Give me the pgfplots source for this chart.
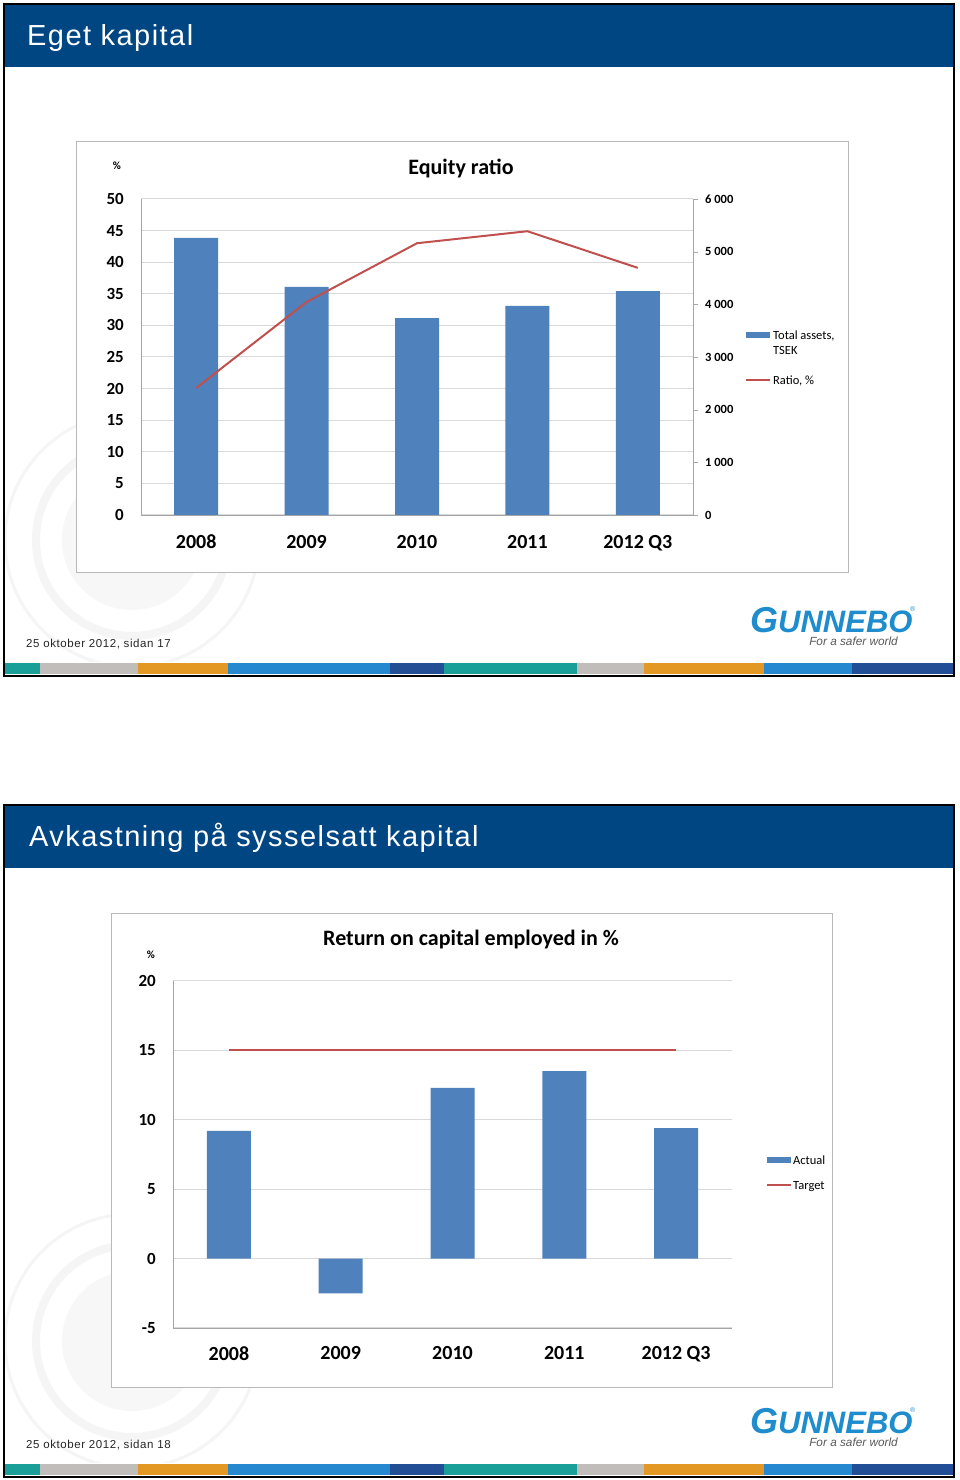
\documentclass[border=0pt]{standalone}
\usepackage{fontspec}
\setmainfont{Carlito}
\newfontfamily\arialsp[LetterSpace=5]{Liberation Sans}
\newfontfamily\arial{Liberation Sans}
\usepackage{pgfplots}
\pgfplotsset{compat=1.18}

\definecolor{hdrblue}{RGB}{0,70,131}
\definecolor{barblue}{RGB}{79,129,189}
\definecolor{linered}{RGB}{192,80,77}
\definecolor{gridgray}{RGB}{217,217,217}
\definecolor{axgray}{RGB}{165,165,165}
\definecolor{logoblue}{RGB}{30,140,205}
\definecolor{stteal}{RGB}{26,158,152}
\definecolor{stgray}{RGB}{192,189,186}
\definecolor{storange}{RGB}{226,152,34}
\definecolor{stblue}{RGB}{38,137,207}
\definecolor{stdark}{RGB}{34,78,150}

\pgfplotsset{
  base/.style={
    scale only axis, anchor=south west,
    xmin=-0.5, xmax=4.5,
    /pgf/number format/assume math mode=true,
    axis line style={draw=axgray, -},
    tick style={axgray},
  },
  cats/.style={
    xtick={0,...,4}, xticklabels={2008,2009,2010,2011,2012 Q3},
    axis x line*=bottom, axis y line*=left,
    major tick length=0pt,
    ymajorgrids, grid style={gridgray, line width=1pt},
    yticklabel style={font=\fontsize{17}{20}\selectfont\bfseries, inner sep=0pt, xshift=-17pt},
    xticklabel style={font=\fontsize{20}{24}\selectfont\bfseries, inner sep=0pt, yshift=-20pt},
  },
}

% one slide frame: #1 = y of slide bottom (1pt = 1px)
\newcommand{\slideframe}[4]{%
  \begin{scope}
    \clip (5,{#1+14}) rectangle (953,{#1+608});
    \draw[gray!8, line width=3pt] (132,{#1+136}) circle (127pt);
    \draw[gray!8, line width=8pt] (132,{#1+136}) circle (96pt);
    \fill[gray!6] (132,{#1+136}) circle (70pt);
  \end{scope}
  \draw[black, line width=2pt] (4,#1) rectangle (954,{#1+672});
  \fill[hdrblue] (5,{#1+609}) rectangle (953,{#1+671});
  \node[anchor=base west, white, inner sep=0, font=\arialsp\fontsize{29}{30}\selectfont] at (#2,{#1+630}) {#3};
  \foreach \a/\b/\c in {5/40/stteal, 40/138/stgray, 138/228/storange, 228/390/stblue, 390/444/stdark,
                        444/577/stteal, 577/644/stgray, 644/764/storange, 764/852/stblue, 852/953/stdark}
    \fill[\c] (\a,{#1+2}) rectangle (\b,{#1+13});
  \node[anchor=base west, inner sep=0, black!85, font=\arialsp\fontsize{11.5}{13}\selectfont] at (26,{#1+28}) {#4};
  \node[anchor=base west, inner sep=0, logoblue, font=\arial\bfseries\itshape] at (750,{#1+43})
    {\fontsize{36}{36}\selectfont G\fontsize{31}{31}\selectfont UNNEBO};
  \node[anchor=base west, inner sep=0, logoblue, font=\arial\fontsize{7}{7}\selectfont] at (910,{#1+64}) {\textregistered};
  \node[anchor=base east, inner sep=0, black!65, font=\arial\itshape\fontsize{11.8}{13}\selectfont] at (898,{#1+30}) {For a safer world};
}

\begin{document}
\begin{tikzpicture}
\begin{scope}[x=1pt,y=1pt]
\fill[white] (0,0) rectangle (960,1480);

% slide 17 frame
\slideframe{804}{27}{Eget kapital}{25 oktober 2012, sidan 17}
\draw[gray!55, fill=white, line width=1pt] (76,907) rectangle (848,1338);
\node[font=\fontsize{22}{26}\selectfont\bfseries] at (461,1311) {Equity ratio};
\node[font=\fontsize{11}{13}\selectfont\bfseries] at (117,1314) {\%};
\fill[barblue] (746,1142) rectangle (770,1148);
\node[anchor=base west, inner sep=0, font=\fontsize{12.5}{15}\selectfont] at (773,1140.5) {Total assets,};
\node[anchor=base west, inner sep=0, font=\fontsize{12.5}{15}\selectfont] at (773,1125.5) {TSEK};
\draw[linered, line width=2pt] (746,1100) -- (770,1100);
\node[anchor=base west, inner sep=0, font=\fontsize{12.5}{15}\selectfont] at (773,1095.5) {Ratio, \%};

% slide 18 frame
\slideframe{3}{29}{Avkastning på sysselsatt kapital}{25 oktober 2012, sidan 18}
\draw[gray!55, fill=white, line width=1pt] (111,92) rectangle (832,566);
\node[font=\fontsize{22}{26}\selectfont\bfseries] at (471,540) {Return on capital employed in \%};
\node[font=\fontsize{11}{13}\selectfont\bfseries] at (151,525) {\%};
\fill[barblue] (767,317) rectangle (791,323);
\node[anchor=base west, inner sep=0, font=\fontsize{12.5}{15}\selectfont] at (793,315.5) {Actual};
\draw[linered, line width=2pt] (767,295) -- (791,295);
\node[anchor=base west, inner sep=0, font=\fontsize{12.5}{15}\selectfont] at (793,290.5) {Target};
\end{scope}

% ---------------- Equity ratio
\begin{axis}[base, cats, at={(141pt,965pt)}, width=552pt, height=316pt,
  ymin=0, ymax=50, ytick={0,5,...,50}]
\addplot[draw=none] coordinates {(0,0)};
\end{axis}

\begin{axis}[base, at={(141pt,965pt)}, width=552pt, height=316pt,
  ymin=0, ymax=6000, ytick={0,1000,...,6000},
  axis y line*=right, axis x line=none,
  tick align=outside, major tick length=5pt,
  /pgf/number format/1000 sep={\ },
  yticklabel style={font=\fontsize{12.5}{14}\selectfont\bfseries, inner sep=0pt, xshift=7pt}]
% Total assets, TSEK
\addplot[ybar, bar width=44pt, bar shift=0pt, fill=barblue, draw=none]
  coordinates {(0,5260) (1,4330) (2,3740) (3,3970) (4,4250)};
\end{axis}

\begin{axis}[base, at={(141pt,965pt)}, width=552pt, height=316pt,
  ymin=0, ymax=50, hide axis]
% Ratio, %
\addplot[linered, line width=2pt]
  coordinates {(0,20.1) (1,33.7) (2,43.0) (3,44.9) (4,39.1)};
\end{axis}

% ---------------- Return on capital employed
\begin{axis}[base, cats, at={(173pt,152pt)}, width=559pt, height=347pt,
  ymin=-5, ymax=20, ytick={-5,0,...,20},
  xticklabel style={yshift=2pt}]
% Actual
\addplot[ybar, bar width=44pt, bar shift=0pt, fill=barblue, draw=none]
  coordinates {(0,9.2) (1,-2.5) (2,12.3) (3,13.5) (4,9.4)};
% Target
\addplot[linered, line width=2pt]
  coordinates {(0,15) (1,15) (2,15) (3,15) (4,15)};
\end{axis}
\end{tikzpicture}
\end{document}
